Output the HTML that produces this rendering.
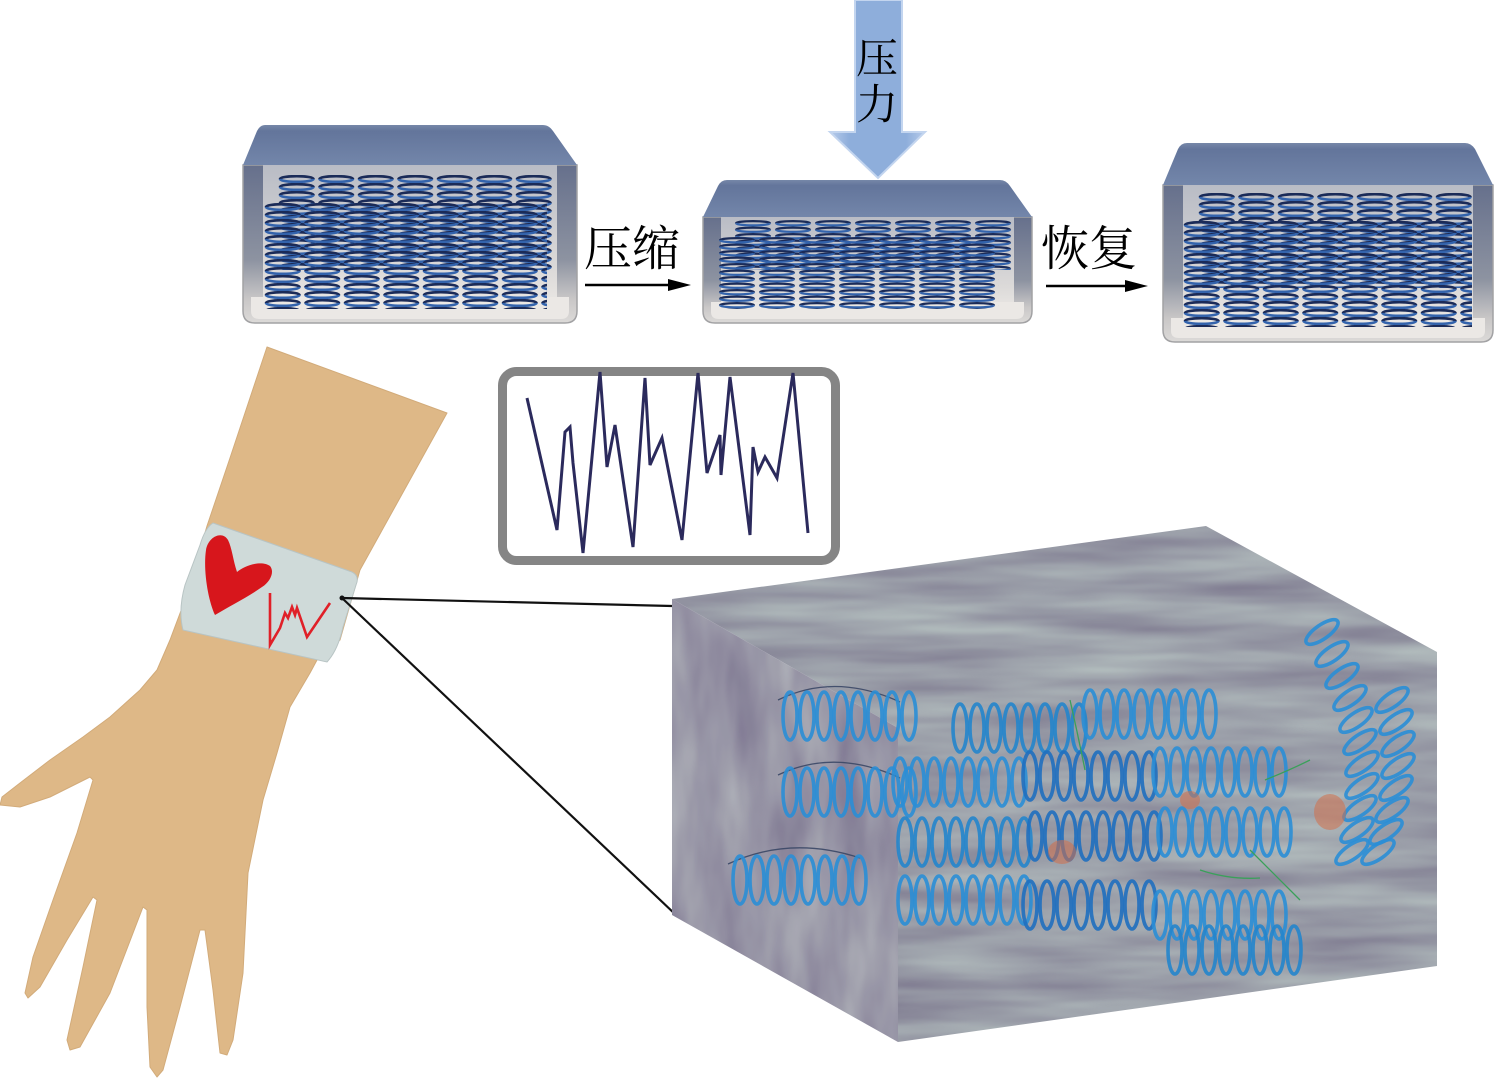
<!DOCTYPE html>
<html><head><meta charset="utf-8"><style>
html,body{margin:0;padding:0;background:#fff;}
svg{display:block;}
text{font-family:"Liberation Serif","Noto Serif CJK SC",serif;fill:#000;}
</style></head><body>
<svg width="1500" height="1079" viewBox="0 0 1500 1079" xmlns="http://www.w3.org/2000/svg">
<defs>
 <linearGradient id="lid" x1="0" y1="0" x2="0" y2="1">
  <stop offset="0" stop-color="#7687a8"/><stop offset="0.15" stop-color="#63759b"/><stop offset="1" stop-color="#7386aa"/>
 </linearGradient>
 <linearGradient id="wall" x1="0" y1="0" x2="0" y2="1">
  <stop offset="0" stop-color="#66708c"/><stop offset="0.6" stop-color="#8d93a1"/><stop offset="0.85" stop-color="#c9c7c7"/><stop offset="1" stop-color="#dcdad8"/>
 </linearGradient>
 <linearGradient id="inner" x1="0" y1="0" x2="0" y2="1">
  <stop offset="0" stop-color="#b9bcc5"/><stop offset="0.7" stop-color="#dcdad9"/><stop offset="1" stop-color="#eeebe8"/>
 </linearGradient>
 <linearGradient id="arrowg" x1="0" y1="0" x2="1" y2="0">
  <stop offset="0" stop-color="#b7cbea"/><stop offset="0.2" stop-color="#8eaedb"/><stop offset="0.8" stop-color="#8eaedb"/><stop offset="1" stop-color="#b7cbea"/>
 </linearGradient>
 <pattern id="c1" width="39.5" height="8" patternUnits="userSpaceOnUse">
  <path d="M3,4 A16.75,2.8 0 0 1 36.5,4" fill="none" stroke="#1b2b58" stroke-width="2.6"/>
  <path d="M3,4 A16.75,2.8 0 0 0 36.5,4" fill="none" stroke="#3363ac" stroke-width="2.6"/>
 </pattern>
 <pattern id="c2" width="40" height="6.5" patternUnits="userSpaceOnUse">
  <path d="M3,3.25 A17,2.1 0 0 1 37,3.25" fill="none" stroke="#1b2b58" stroke-width="2.2"/>
  <path d="M3,3.25 A17,2.1 0 0 0 37,3.25" fill="none" stroke="#3363ac" stroke-width="2.2"/>
 </pattern>
 <filter id="marble" x="0" y="0" width="100%" height="100%" filterUnits="userSpaceOnUse" color-interpolation-filters="sRGB">
  <feTurbulence type="fractalNoise" baseFrequency="0.005 0.045" numOctaves="3" seed="4"/>
  <feColorMatrix type="matrix" values="0.25 0 0 0 0.48  0.32 0 0 0 0.46  0.22 0 0 0 0.55  0 0 0 0 1"/>
 </filter>
 <filter id="marble2" x="0" y="0" width="100%" height="100%" filterUnits="userSpaceOnUse" color-interpolation-filters="sRGB">
  <feTurbulence type="fractalNoise" baseFrequency="0.03 0.008" numOctaves="3" seed="7"/>
  <feColorMatrix type="matrix" values="0.25 0 0 0 0.48  0.3 0 0 0 0.45  0.2 0 0 0 0.56  0 0 0 0 1"/>
 </filter>
 <clipPath id="topfront"><polygon points="672,599 1206,526 1437,652 1437,966 898,1042 898,728"/></clipPath>
 <clipPath id="leftface"><polygon points="672,599 898,728 898,1042 672,915"/></clipPath>
 <g id="r8">
  <ellipse cx="0" cy="0" rx="7" ry="24"/><ellipse cx="17" cy="0" rx="7" ry="24"/>
  <ellipse cx="34" cy="0" rx="7" ry="24"/><ellipse cx="51" cy="0" rx="7" ry="24"/>
  <ellipse cx="68" cy="0" rx="7" ry="24"/><ellipse cx="85" cy="0" rx="7" ry="24"/>
  <ellipse cx="102" cy="0" rx="7" ry="24"/><ellipse cx="119" cy="0" rx="7" ry="24"/>
 </g>
 <ellipse id="tl" cx="0" cy="0" rx="7" ry="19" transform="rotate(55)"/>
</defs>

<!-- Pressure arrow -->
<path d="M855,0 H902 V132 H925 L878,178 L830,132 H855 Z" fill="url(#arrowg)" stroke="#c3d5ef" stroke-width="2"/>
<text x="877" y="73" font-size="42" text-anchor="middle">压</text>
<text x="877" y="119" font-size="42" text-anchor="middle">力</text>

<!-- Box 1 -->
<g transform="translate(243,125)">
 <path d="M0,40 H334 V186 Q334,198 322,198 H12 Q0,198 0,186 Z" fill="url(#wall)" stroke="#a2a2a4" stroke-width="1.5"/>
 <rect x="20" y="40" width="294" height="150" fill="url(#inner)"/>
 <path d="M8,172 H326 V186 Q326,194 318,194 H16 Q8,194 8,186 Z" fill="#ebe8e5"/>
 <g transform="translate(34,50)"><rect width="275" height="95" fill="url(#c1)"/></g>
 <g transform="translate(20,78)"><rect width="284" height="106" fill="url(#c1)"/></g>
 <path d="M22,0 H300 Q306,0 310,6 L334,40 H0 L14,6 Q17,0 22,0 Z" fill="url(#lid)"/>
</g>

<text x="584" y="265" font-size="48">压缩</text>
<line x1="585" y1="285" x2="670" y2="285" stroke="#000" stroke-width="2.5"/>
<polygon points="668,279 691,285 668,291" fill="#000"/>

<!-- Box 2 -->
<g transform="translate(703,180)">
 <path d="M0,37 H329 V131 Q329,143 317,143 H12 Q0,143 0,131 Z" fill="url(#wall)" stroke="#a2a2a4" stroke-width="1.5"/>
 <rect x="18" y="37" width="293" height="100" fill="url(#inner)"/>
 <path d="M8,122 H321 V132 Q321,139 313,139 H16 Q8,139 8,132 Z" fill="#ebe8e5"/>
 <g transform="translate(30,40)"><rect width="279" height="50" fill="url(#c2)"/></g>
 <g transform="translate(14,57)"><rect width="282" height="72" fill="url(#c2)"/></g>
 <path d="M24,0 H297 Q303,0 307,6 L329,37 H0 L15,6 Q18,0 24,0 Z" fill="url(#lid)"/>
</g>

<text x="1041" y="265" font-size="48">恢复</text>
<line x1="1046" y1="286" x2="1127" y2="286" stroke="#000" stroke-width="2.5"/>
<polygon points="1125,280 1148,286 1125,292" fill="#000"/>

<!-- Box 3 -->
<g transform="translate(1163,143)">
 <path d="M0,42 H330 V187 Q330,199 318,199 H12 Q0,199 0,187 Z" fill="url(#wall)" stroke="#a2a2a4" stroke-width="1.5"/>
 <rect x="20" y="42" width="290" height="150" fill="url(#inner)"/>
 <path d="M8,175 H322 V188 Q322,195 314,195 H16 Q8,195 8,188 Z" fill="#ebe8e5"/>
 <g transform="translate(34,50)"><rect width="275" height="95" fill="url(#c1)"/></g>
 <g transform="translate(19,78)"><rect width="290" height="106" fill="url(#c1)"/></g>
 <path d="M24,0 H302 Q308,0 312,6 L330,42 H0 L15,6 Q18,0 24,0 Z" fill="url(#lid)"/>
</g>

<!-- Waveform box -->
<rect x="502.5" y="371.5" width="333" height="189" rx="14" fill="#fff" stroke="#858585" stroke-width="9"/>
<polyline fill="none" stroke="#2b2a5c" stroke-width="3" stroke-linejoin="miter" points="527,398 557,530 565,432 570,427 573,463 583,553 600,372 607,467 615,425 633,547 645,378 650,465 662,438 682,540 698,373 707,473 720,435 721,475 730,377 750,535 753,447 758,472 765,457 777,478 793,373 808,533"/>

<!-- Arm -->
<polygon fill="#deb887" stroke="#d2ab7a" stroke-width="1" stroke-linejoin="round" points="267,347 447,413 360,570 340,640 317,660 310,673 290,707 277,753 263,800 248,873 243,973 233,1040 227,1055 220,1053 213,990 205,930 200,930 180,1007 163,1070 157,1077 150,1067 147,1007 147,910 143,907 110,993 80,1047 70,1050 67,1040 83,967 97,900 93,897 67,940 40,987 28,998 25,993 33,957 53,900 77,833 93,780 90,777 50,797 20,807 0,805 2,797 20,783 50,760 83,737 110,717 140,690 157,670 170,640 185,600 207,526 230,458"/>
<!-- Wristband -->
<path d="M213,523 L352,572 Q360,576 356,585 L343,627 Q338,650 327,662 L183,630 Q178,610 185,585 L200,545 Q205,528 213,523 Z" fill="#cfdad9" stroke="#b8c4c4" stroke-width="1"/>
<path d="M215,615 C208,600 203,570 206,550 C208,537 222,530 228,540 C232,548 233,560 237,572 C245,565 262,560 270,566 C275,572 270,582 262,587 C248,597 228,607 215,615 Z" fill="#d7161c"/>
<polyline fill="none" stroke="#e02028" stroke-width="2.6" points="270,593 270,645 280,628 285,613 288,618 292,607 295,615 297,608 307,637 330,603"/>

<!-- connector lines -->
<line x1="342" y1="598" x2="672" y2="606" stroke="#111" stroke-width="2.2"/>
<line x1="342" y1="598" x2="676" y2="915" stroke="#111" stroke-width="2.2"/>
<circle cx="342" cy="598" r="2.5" fill="#111"/>

<!-- Big box -->
<g clip-path="url(#topfront)">
 <rect x="660" y="520" width="790" height="530" filter="url(#marble)"/>
</g>
<g clip-path="url(#leftface)">
 <rect x="660" y="590" width="250" height="460" filter="url(#marble2)"/>
 <rect x="660" y="590" width="250" height="460" fill="#7a6c8a" opacity="0.06"/>
</g>

<!-- helices -->
<g fill="none" stroke-width="3.6" stroke-opacity="0.9">
 <path d="M778,700 Q835,672 900,702 M778,775 Q835,748 900,778 M728,864 Q790,835 860,858" stroke="#3a4766" stroke-width="1.3"/>
 <use href="#r8" x="790" y="716" stroke="#2a8ed6"/>
 <use href="#r8" x="790" y="792" stroke="#2a8ed6"/>
 <use href="#r8" x="740" y="880" stroke="#2a8ed6"/>
 <use href="#r8" x="960" y="728" stroke="#2385cc"/>
 <use href="#r8" x="1090" y="714" stroke="#2a8ed6"/>
 <use href="#r8" x="900" y="782" stroke="#2a8ed6"/>
 <use href="#r8" x="1030" y="776" stroke="#1f6fbf"/>
 <use href="#r8" x="1160" y="772" stroke="#2a8ed6"/>
 <use href="#r8" x="905" y="842" stroke="#2385cc"/>
 <use href="#r8" x="1035" y="836" stroke="#1f6fbf"/>
 <use href="#r8" x="1165" y="832" stroke="#2a8ed6"/>
 <use href="#r8" x="905" y="900" stroke="#2a8ed6"/>
 <use href="#r8" x="1030" y="905" stroke="#1f6fbf"/>
 <use href="#r8" x="1160" y="915" stroke="#2a8ed6"/>
 <use href="#r8" x="1175" y="950" stroke="#2385cc"/>
 <g stroke="#2a8ed6">
  <use href="#tl" x="1322" y="632"/><use href="#tl" x="1332" y="654"/><use href="#tl" x="1342" y="676"/>
  <use href="#tl" x="1350" y="698"/><use href="#tl" x="1356" y="720"/><use href="#tl" x="1360" y="742"/>
  <use href="#tl" x="1362" y="764"/><use href="#tl" x="1362" y="786"/><use href="#tl" x="1360" y="808"/>
  <use href="#tl" x="1357" y="830"/><use href="#tl" x="1352" y="852"/>
  <use href="#tl" x="1392" y="700"/><use href="#tl" x="1396" y="722"/><use href="#tl" x="1398" y="744"/>
  <use href="#tl" x="1398" y="766"/><use href="#tl" x="1396" y="788"/><use href="#tl" x="1392" y="810"/>
  <use href="#tl" x="1386" y="832"/><use href="#tl" x="1378" y="852"/>
 </g>
</g>
<g fill="#d2704a" opacity="0.55">
 <ellipse cx="1062" cy="852" rx="14" ry="12"/>
 <ellipse cx="1330" cy="812" rx="16" ry="18"/>
 <ellipse cx="1190" cy="800" rx="10" ry="9"/>
</g>
<g fill="none" stroke="#3aa05a" stroke-width="1.3">
 <path d="M1250,850 Q1280,880 1300,900 M1265,780 Q1290,770 1310,760 M1070,700 Q1078,735 1085,770 M1200,870 Q1230,880 1260,878"/>
</g>
</svg>
</body></html>
